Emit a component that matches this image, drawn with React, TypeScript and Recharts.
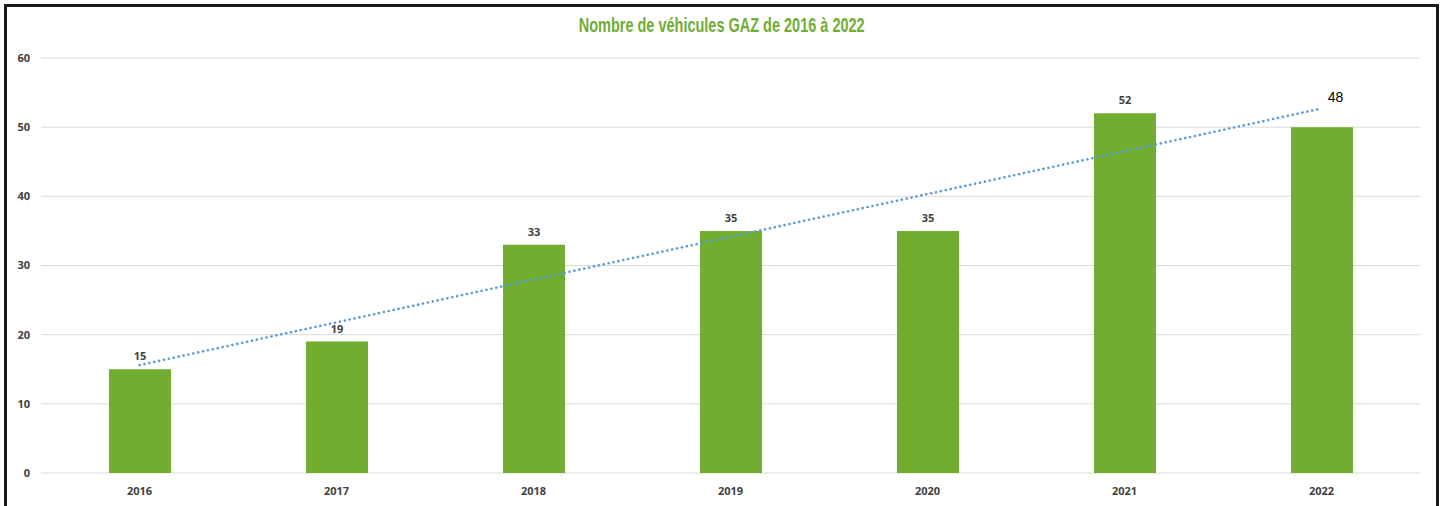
import {
  ComposedChart,
  Bar,
  Line,
  XAxis,
  YAxis,
  CartesianGrid,
  LabelList,
} from "recharts";

const years = ["2016", "2017", "2018", "2019", "2020", "2021", "2022"];
const vehicles = [15, 19, 33, 35, 35, 52, 50];
const barLabels = ["15", "19", "33", "35", "35", "52", ""];
// trendline ends
const trend = [15.6, null, null, null, null, null, 52.7];
const trendLabel = "48";
const yTicks = [0, 10, 20, 30, 40, 50, 60];

const data = years.map((year, i) => ({
  year,
  vehicles: vehicles[i],
  label: barLabels[i],
  trend: trend[i],
}));

const tickFont = {
  fontFamily: "'Open Sans', sans-serif",
  fontSize: 11,
  fontWeight: 700,
  fill: "#404040",
};

const TrendEndLabel = (props: any) => {
  const { x, y, index } = props;
  if (index !== years.length - 1) return null;
  return (
    <text
      x={x + 14}
      y={y - 6}
      textAnchor="middle"
      fontFamily="'Liberation Sans', Arial, sans-serif"
      fontSize={14}
      fill="#000"
    >
      {trendLabel}
    </text>
  );
};

const App = () => {
  return (
    <div
      style={{
        position: "absolute",
        left: 0,
        top: 0,
        width: 1444,
        height: 506,
        background: "#fff",
        overflow: "hidden",
      }}
    >
      <div
        style={{
          position: "absolute",
          left: 4,
          top: 4,
          width: 1429,
          height: 520,
          border: "3px solid #1a1a1a",
        }}
      />
      <div
        style={{
          position: "absolute",
          left: 0,
          top: 13,
          width: 1444,
          textAlign: "center",
          fontFamily: "'Liberation Sans Narrow', 'Liberation Sans', sans-serif",
          fontWeight: 700,
          fontSize: 21,
          color: "#70ad35",
          transform: "scaleX(0.69)",
          transformOrigin: "721px 0",
        }}
      >
        Nombre de véhicules GAZ de 2016 à 2022
      </div>
      <ComposedChart
        width={1444}
        height={506}
        data={data}
        margin={{ top: 58, right: 24, bottom: 0, left: 0 }}
        style={{ position: "absolute", left: 0, top: 0 }}
      >
        <CartesianGrid vertical={false} stroke="#d9d9d9" />
        <XAxis
          dataKey="year"
          height={33}
          axisLine={false}
          tickLine={false}
          tickSize={0}
          tickMargin={14}
          tick={tickFont}
          interval={0}
        />
        <YAxis
          width={41}
          domain={[0, 60]}
          ticks={yTicks}
          axisLine={false}
          tickLine={false}
          tickSize={0}
          tickMargin={11}
          tick={tickFont}
        />
        <Bar dataKey="vehicles" fill="#71ad2f" barSize={62} isAnimationActive={false}>
          <LabelList dataKey="label" position="top" offset={9} style={tickFont} />
        </Bar>
        <Line
          dataKey="trend"
          connectNulls
          stroke="#5b9bd5"
          strokeWidth={2.6}
          strokeDasharray="0.1 4.9"
          strokeLinecap="round"
          dot={false}
          activeDot={false}
          isAnimationActive={false}
        >
          <LabelList dataKey="trend" content={TrendEndLabel} />
        </Line>
      </ComposedChart>
    </div>
  );
};

export default App;
